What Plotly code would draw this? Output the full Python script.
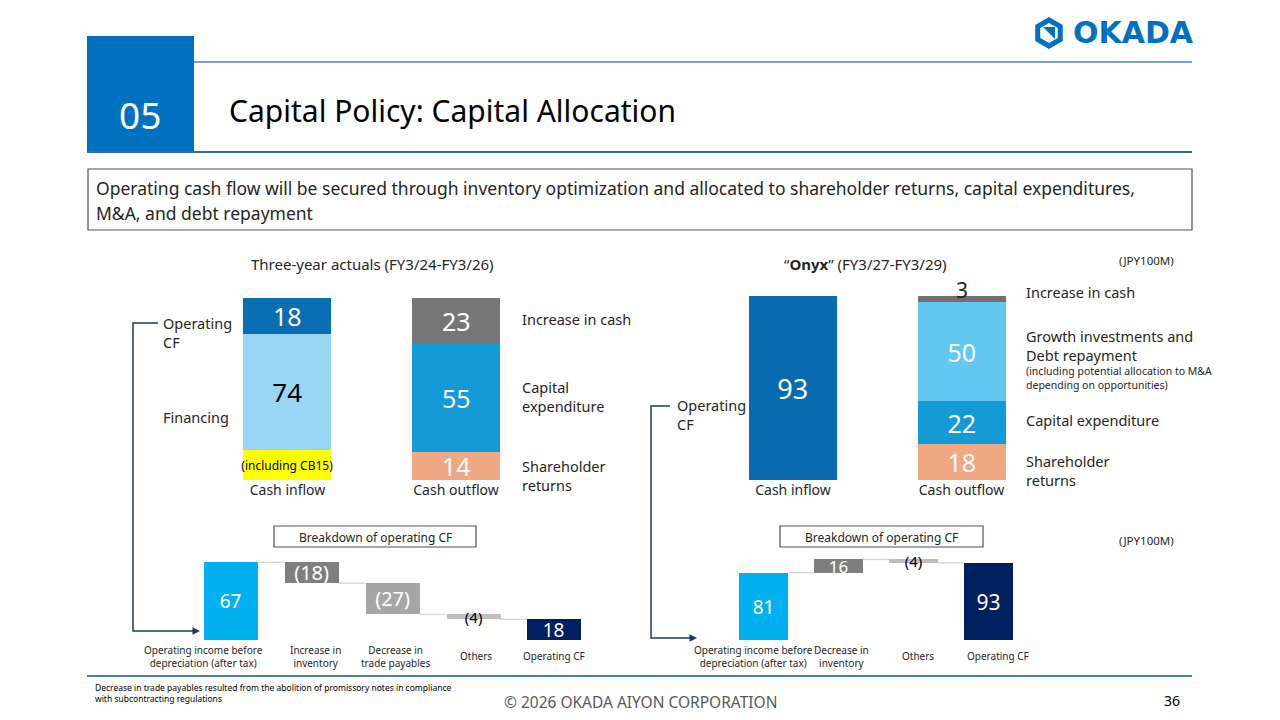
import math
import plotly.graph_objects as go

# ---- data (JPY100M) ----
top_categories = ["Cash inflow", "Cash outflow"]

left_inflow_names = ["Financing", "Operating CF"]
left_inflow_values = [74, 18]
left_cb_value = 15
left_outflow_names = ["Shareholder returns", "Capital expenditure", "Increase in cash"]
left_outflow_values = [14, 55, 23]

right_inflow_names = ["Operating CF"]
right_inflow_values = [93]
right_outflow_names = ["Shareholder returns", "Capital expenditure",
                       "Growth investments and Debt repayment", "Increase in cash"]
right_outflow_values = [18, 22, 50, 3]

left_wf_labels = ["Operating income before<br>depreciation (after tax)", "Increase in<br>inventory",
                  "Decrease in<br>trade payables", "Others", "Operating CF"]
left_wf_values = [67, -18, -27, -4, 18]
left_wf_measure = ["absolute", "relative", "relative", "relative", "total"]

right_wf_labels = ["Operating income before<br>depreciation (after tax)", "Decrease in<br>inventory",
                   "Others", "Operating CF"]
right_wf_values = [81, 16, -4, 93]
right_wf_measure = ["absolute", "relative", "relative", "total"]

# ---- styles ----
FONT = "Noto Sans"
TXT = "#262626"
NAVY = "#1F3864"
LINE = "#4F81BD"
left_in_colors = ["#99D6F5", "#0A6EB4"]
left_out_colors = ["#F0A883", "#149BD7", "#767676"]
right_in_colors = ["#0A6AB0"]
right_out_colors = ["#F0A883", "#149BD7", "#63C8F1", "#757070"]
left_wf_colors = ["#00B0F0", "#7F7F7F", "#A6A6A6", "#BFBFBF", "#002060"]
left_wf_txtcol = ["white", "white", "white", "black", "white"]
left_wf_txtsize = [19, 20, 20, 15, 19]
left_wf_shift = [-27, 4, 3, 3, 0]
right_wf_colors = ["#00B0F0", "#7F7F7F", "#BFBFBF", "#002060"]
right_wf_txtcol = ["white", "white", "black", "white"]
right_wf_txtsize = [19, 17, 15, 21]
right_wf_shift = [-10, 3, 4, 9]


def X(p):
    return p / 1280


def Y(p):
    return 1 - p / 720


def wf_text(v):
    return f"({-v})" if v < 0 else str(v)


def wf_bars(values, measure):
    bases, heights, levels = [], [], []
    run = 0
    for v, m in zip(values, measure):
        if m == "absolute":
            bases.append(0); heights.append(v); run = v
        elif m == "relative":
            bases.append(run); heights.append(v); run += v
        else:
            bases.append(0); heights.append(run)
        levels.append(run)
    return bases, heights, levels


fig = go.Figure()
barstyle = dict(insidetextanchor="middle", constraintext="none", textangle=0, cliponaxis=False)

# top left stacked bars
fig.add_trace(go.Bar(x=[top_categories[0]], y=[left_cb_value], width=0.52,
                     marker=dict(color="#FFFF00", line_width=0),
                     text=["(including CB15)"], textposition="inside",
                     textfont=dict(size=12, color="black"), xaxis="x", yaxis="y", **barstyle))
fig.add_trace(go.Bar(x=[top_categories[0]], y=[left_inflow_values[0] - left_cb_value], width=0.52,
                     marker=dict(color=left_in_colors[0], line_width=0),
                     text=[str(left_inflow_values[0])], textposition="inside",
                     textfont=dict(size=26, color="black"), xaxis="x", yaxis="y", **barstyle))
fig.add_trace(go.Bar(x=[top_categories[0]], y=[left_inflow_values[1]], width=0.52,
                     marker=dict(color=left_in_colors[1], line_width=0),
                     text=[str(left_inflow_values[1])], textposition="inside",
                     textfont=dict(size=25, color="white"), xaxis="x", yaxis="y", **barstyle))
for v, c in zip(left_outflow_values, left_out_colors):
    fig.add_trace(go.Bar(x=[top_categories[1]], y=[v], width=0.52,
                         marker=dict(color=c, line_width=0),
                         text=[str(v)], textposition="inside",
                         textfont=dict(size=25, color="white"), xaxis="x", yaxis="y", **barstyle))

# top right stacked bars
for v, c in zip(right_inflow_values, right_in_colors):
    fig.add_trace(go.Bar(x=[top_categories[0]], y=[v], width=0.52,
                         marker=dict(color=c, line_width=0),
                         text=[str(v)], textposition="inside",
                         textfont=dict(size=27, color="white"), xaxis="x2", yaxis="y2", **barstyle))
for i, (v, c) in enumerate(zip(right_outflow_values, right_out_colors)):
    top = i == len(right_outflow_values) - 1
    fig.add_trace(go.Bar(x=[top_categories[1]], y=[v], width=0.52,
                         marker=dict(color=c, line_width=0),
                         text=[str(v)] if not top else None, textposition="inside",
                         textfont=dict(size=25, color="white"),
                         xaxis="x2", yaxis="y2", **barstyle))

# waterfalls drawn as floating bars
shapes = []
for labels, values, measure, cols, tcols, tsizes, w, ax in [
        (left_wf_labels, left_wf_values, left_wf_measure, left_wf_colors, left_wf_txtcol, left_wf_txtsize, 0.67, "3"),
        (right_wf_labels, right_wf_values, right_wf_measure, right_wf_colors, right_wf_txtcol, right_wf_txtsize, 0.65, "4")]:
    bases, heights, levels = wf_bars(values, measure)
    idx = list(range(len(values)))
    fig.add_trace(go.Bar(x=idx, y=heights, base=bases, width=w,
                         marker=dict(color=cols, line_width=0),
                         text=[wf_text(v) for v in values], textposition="inside",
                         textfont=dict(size=tsizes, color=tcols),
                         xaxis="x" + ax, yaxis="y" + ax, **barstyle))
    for i in range(len(values) - 1):
        shapes.append(dict(type="line", xref="x" + ax, yref="y" + ax,
                           x0=i + w / 2, x1=i + 1 - w / 2, y0=levels[i], y1=levels[i],
                           line=dict(color="#D9D9D9", width=1.5), layer="below"))

noax = dict(showgrid=False, zeroline=False, showline=False, ticks="")
fig.update_layout(
    width=1280, height=720, margin=dict(l=0, r=0, t=0, b=0),
    paper_bgcolor="white", plot_bgcolor="white", showlegend=False,
    barmode="stack", bargap=0,
    font=dict(family=FONT, color=TXT),
    xaxis=dict(domain=[X(203.25), X(540.25)], anchor="y", range=[-0.5, 1.5], type="category",
               tickfont=dict(size=14, color=TXT), **noax),
    yaxis=dict(domain=[Y(480), Y(296)], anchor="x", range=[0, 93], visible=False),
    xaxis2=dict(domain=[X(708.75), X(1045.75)], anchor="y2", range=[-0.5, 1.5], type="category",
                tickfont=dict(size=14, color=TXT), **noax),
    yaxis2=dict(domain=[Y(480), Y(296)], anchor="x2", range=[0, 93], visible=False),
    xaxis3=dict(domain=[X(190.6), X(594.4)], anchor="y3", range=[-0.5, 4.5], showticklabels=False, **noax),
    yaxis3=dict(domain=[Y(640), Y(555)], anchor="x3", range=[0, 73.3], visible=False),
    xaxis4=dict(domain=[X(726), X(1026)], anchor="y4", range=[-0.5, 3.5], showticklabels=False, **noax),
    yaxis4=dict(domain=[Y(640), Y(550)], anchor="x4", range=[0, 108.4], visible=False),
)

# slide frame
shapes += [
    dict(type="rect", xref="paper", yref="paper", x0=X(87), x1=X(194), y0=Y(152), y1=Y(36),
         fillcolor="#0070C0", line_width=0),
    dict(type="line", xref="paper", yref="paper", x0=X(194), x1=X(1192), y0=Y(62), y1=Y(62),
         line=dict(color=LINE, width=1.5)),
    dict(type="line", xref="paper", yref="paper", x0=X(87), x1=X(1192), y0=Y(152), y1=Y(152),
         line=dict(color="#2E6DA4", width=2)),
    dict(type="rect", xref="paper", yref="paper", x0=X(88), x1=X(1192), y0=Y(230), y1=Y(169),
         line=dict(color="#44546A", width=1.2)),
    dict(type="rect", xref="paper", yref="paper", x0=X(274), x1=X(476), y0=Y(547), y1=Y(526),
         line=dict(color="#44546A", width=1.2)),
    dict(type="rect", xref="paper", yref="paper", x0=X(780), x1=X(983), y0=Y(547), y1=Y(526),
         line=dict(color="#44546A", width=1.2)),
    dict(type="line", xref="paper", yref="paper", x0=X(87), x1=X(1192), y0=Y(676), y1=Y(676),
         line=dict(color="#4A7FAF", width=2)),
    dict(type="path", xref="paper", yref="paper",
         path=f"M {X(158)},{Y(323)} L {X(133)},{Y(323)} L {X(133)},{Y(631)} L {X(196)},{Y(631)}",
         line=dict(color=NAVY, width=1.5)),
    dict(type="path", xref="paper", yref="paper",
         path=f"M {X(670)},{Y(406)} L {X(651)},{Y(406)} L {X(651)},{Y(638)} L {X(693)},{Y(638)}",
         line=dict(color=NAVY, width=1.5)),
]

# logo hexagon
cx, cy, r = 1049, 33, 13
pts = [(cx + r * math.cos(math.radians(a)), cy - r * math.sin(math.radians(a)))
       for a in [90, 150, 210, 270, 330, 30]]
hexpath = "M " + " L ".join(f"{X(px)},{Y(py)}" for px, py in pts) + " Z"
shapes.append(dict(type="path", xref="paper", yref="paper", path=hexpath,
                   line=dict(color="#0070C0", width=5)))
shapes.append(dict(type="path", xref="paper", yref="paper",
                   path=f"M {X(1043)},{Y(27)} L {X(1055)},{Y(27)} L {X(1055)},{Y(39)} Z",
                   fillcolor="#0070C0", line_width=0))

anns = []


def txt(x, y, s, size, color=TXT, xanchor="left", yanchor="middle", **kw):
    anns.append(dict(x=X(x), y=Y(y), xref="paper", yref="paper", text=s, showarrow=False,
                     xanchor=xanchor, yanchor=yanchor, align="left" if xanchor == "left" else "center",
                     font=dict(size=size, color=color, family=kw.pop("family", FONT)), **kw))


txt(140, 114, "05", 37, "white", xanchor="center")
txt(227, 110, "Capital Policy: Capital Allocation", 30, "black")
txt(1071, 33, "<b>OKADA</b>", 30, "#0070C0", family="DejaVu Sans")
txt(94, 188, "Operating cash flow will be secured through inventory optimization and allocated to shareholder returns, capital expenditures,", 17.5)
txt(94, 213, "M&A, and debt repayment", 17.5)

txt(372, 264, "Three-year actuals (FY3/24-FY3/26)", 15, xanchor="center")
txt(865, 264, "“<b>Onyx</b>” (FY3/27-FY3/29)", 15, xanchor="center")
txt(1117, 260, "(JPY100M)", 11.5)
txt(1117, 540, "(JPY100M)", 11.5)

txt(161, 332, "Operating<br>CF", 14.5)
txt(161, 417, "Financing", 14.5)
txt(520, 319, "Increase in cash", 14.5)
txt(520, 396, "Capital<br>expenditure", 14.5)
txt(520, 475, "Shareholder<br>returns", 14.5)

txt(675, 415, "Operating<br>CF", 14.5)
txt(1024, 292, "Increase in cash", 14.5)
txt(1024, 345, "Growth investments and<br>Debt repayment", 14.5)
txt(1024, 378, "(including potential allocation to M&A<br>depending on opportunities)", 10.5)
txt(1024, 420, "Capital expenditure", 14.5)
txt(1024, 470, "Shareholder<br>returns", 14.5)

# label of the thin "increase in cash" segment, sitting on the top of the stack
anns.append(dict(x=top_categories[1], y=sum(right_outflow_values), xref="x2", yref="y2",
                 text=str(right_outflow_values[-1]), showarrow=False, xanchor="center",
                 yanchor="middle", yshift=6, font=dict(size=21, color=TXT, family=FONT)))

txt(375, 537, "Breakdown of operating CF", 12, xanchor="center")
txt(881, 537, "Breakdown of operating CF", 12, xanchor="center")

for labels, shifts, ax in [(left_wf_labels, left_wf_shift, "x3"), (right_wf_labels, right_wf_shift, "x4")]:
    for i, (lab, sh) in enumerate(zip(labels, shifts)):
        anns.append(dict(x=i, y=Y(656), xref=ax, yref="paper", text=lab, showarrow=False,
                         xanchor="center", yanchor="middle", xshift=sh, align="center",
                         font=dict(size=10, color=TXT, family=FONT)))

# arrowheads of the brackets
for x, y in [(200, 631), (697, 638)]:
    anns.append(dict(x=X(x), y=Y(y), xref="paper", yref="paper", text="", showarrow=True,
                     ax=-8, ay=0, arrowhead=2, arrowsize=1, arrowwidth=1.5, arrowcolor=NAVY))

txt(93, 693, "Decrease in trade payables resulted from the abolition of promissory notes in compliance<br>with subcontracting regulations", 8.5, "black")
txt(640, 702, "© 2026 OKADA AIYON CORPORATION", 15.5, "#595959", xanchor="center")
txt(1182, 700, "36", 14, "black", xanchor="right")

fig.update_layout(shapes=shapes, annotations=anns)
fig.write_html("out.html", config={"displayModeBar": False},
               post_script="document.body.style.margin='0';document.body.style.padding='0';")
